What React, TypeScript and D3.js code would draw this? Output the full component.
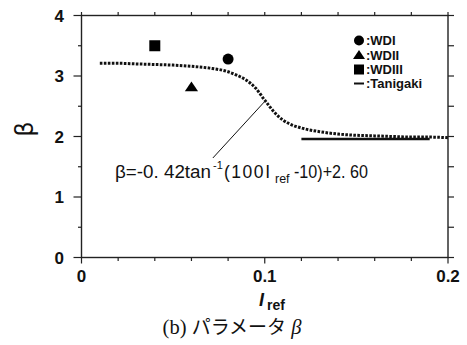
import * as d3 from 'd3';
import React from 'react';

// fitted curve beta = -0.42 tan^-1(100 Iref - 10) + 2.60
const curveI = [0.01, 0.02, 0.03, 0.04, 0.05, 0.06, 0.07, 0.08, 0.085, 0.09, 0.095, 0.1, 0.105, 0.11, 0.115, 0.12, 0.13, 0.14, 0.15, 0.16, 0.17, 0.18, 0.19, 0.2];
const curveBeta = [3.21, 3.21, 3.2, 3.19, 3.18, 3.16, 3.13, 3.07, 3.01, 2.93, 2.8, 2.6, 2.41, 2.27, 2.19, 2.14, 2.08, 2.04, 2.02, 2.01, 2.0, 1.99, 1.99, 1.98];

// experiments
const wdNames = ['WDI', 'WDII', 'WDIII'];
const wdI = [0.08, 0.06, 0.04];
const wdBeta = [3.28, 2.82, 3.5];

// Tanigaki
const tanigakiI = [0.12, 0.19];
const tanigakiBeta = [1.96, 1.96];

const xTicks = [0, 0.1, 0.2];
const xMinor = [0, 0.02, 0.04, 0.06, 0.08, 0.1, 0.12, 0.14, 0.16, 0.18, 0.2];
const yTicks = [0, 1, 2, 3, 4];
const yMinor = [0, 0.5, 1, 1.5, 2, 2.5, 3, 3.5, 4];

const W = 467;
const H = 345;
const left = 81.5;
const right = 448;
const top = 15.5;
const bottom = 257.5;

const App: React.FC = () => {
    const x = d3.scaleLinear().domain([0, 0.2]).range([left, right]);
    const y = d3.scaleLinear().domain([0, 4]).range([bottom, top]);

    const line = d3.line<number>()
        .x((d, i) => x(curveI[i]))
        .y((d) => y(d))
        .curve(d3.curveMonotoneX);

    const sans = 'Liberation Sans, Arial, sans-serif';
    const narrow = 'Liberation Sans Narrow, Arial Narrow, sans-serif';
    const stroke = '#222';

    const marker = (i: number, cx: number, cy: number, s: number) => {
        if (i === 0) return <circle cx={cx} cy={cy} r={s / 2} fill="#000" />;
        if (i === 1) {
            const h = s * 0.9;
            return <path d={`M${cx},${cy - h * 0.55}L${cx + s * 0.6},${cy + h * 0.45}L${cx - s * 0.6},${cy + h * 0.45}Z`} fill="#000" />;
        }
        return <rect x={cx - s / 2} y={cy - s / 2} width={s} height={s} fill="#000" />;
    };

    const legendY = [40.5, 55, 69.5, 83.5];
    const legendX = 359;

    return (
        <svg width={W} height={H} style={{ position: 'absolute', left: 0, top: 0, background: '#fff' }}>
            {/* frame */}
            <rect x={left} y={top} width={right - left} height={bottom - top} fill="none" stroke={stroke} strokeWidth={1.4} />

            {/* ticks */}
            {xMinor.map((t) => (
                <g key={'xt' + t}>
                    <line x1={x(t)} x2={x(t)} y1={bottom} y2={bottom + (xTicks.includes(t) ? 6 : 3.5)} stroke={stroke} strokeWidth={1.2} />
                    <line x1={x(t)} x2={x(t)} y1={top} y2={top - 3.5} stroke={stroke} strokeWidth={1.2} />
                </g>
            ))}
            {yMinor.map((t) => (
                <g key={'yt' + t}>
                    <line x1={left} x2={left - (yTicks.includes(t) ? 8 : 3.5)} y1={y(t)} y2={y(t)} stroke={stroke} strokeWidth={1.2} />
                    <line x1={right} x2={right + 6} y1={y(t)} y2={y(t)} stroke={stroke} strokeWidth={1.2} />
                </g>
            ))}

            {/* tick labels */}
            {xTicks.map((t) => (
                <text key={'xl' + t} x={x(t)} y={282} textAnchor="middle" fontFamily={sans} fontWeight="bold" fontSize={17} fill="#111">
                    {t === 0 ? '0' : t.toFixed(1)}
                </text>
            ))}
            {yTicks.map((t) => (
                <text key={'yl' + t} x={64} y={y(t) + 6} textAnchor="end" fontFamily={sans} fontWeight="bold" fontSize={17} fill="#111">
                    {t}
                </text>
            ))}

            {/* axis titles */}
            <text transform="translate(33,129) rotate(-90)" textAnchor="middle" fontFamily="DejaVu Sans, sans-serif" fontSize={24} fill="#111">β</text>
            <text x={259} y={306} fontFamily={sans} fontSize={18} fontWeight="bold" fontStyle="italic" fill="#111">I</text>
            <text x={267} y={310} fontFamily={sans} fontSize={14} fontWeight="bold" fill="#111">ref</text>
            <text x={232} y={334} textAnchor="middle" fontFamily="Liberation Serif, serif" fontSize={20.5} fill="#111">
                (b) <tspan fontFamily="Noto Sans CJK JP" fontSize={19}>パラメータ</tspan> <tspan fontStyle="italic">β</tspan>
            </text>

            {/* fitted curve */}
            <path d={line(curveBeta) || ''} fill="none" stroke="#111" strokeWidth={3} strokeDasharray="2.6 1.4" />

            {/* Tanigaki */}
            <line x1={x(tanigakiI[0])} x2={x(tanigakiI[1])} y1={y(tanigakiBeta[0])} y2={y(tanigakiBeta[1])} stroke="#111" strokeWidth={2.5} />

            {/* experiments */}
            {wdNames.map((n, i) => (
                <g key={n}>{marker(i, x(wdI[i]), y(wdBeta[i]), 11)}</g>
            ))}

            {/* annotation */}
            <line x1={x(0.1)} y1={y(2.58)} x2={x(0.0717)} y2={y(1.645)} stroke="#111" strokeWidth={1} />
            <g fontFamily={narrow} fill="#111" fontSize={17.5}>
                <text x={115} y={178} textLength={96} lengthAdjust="spacingAndGlyphs">β=-0. 42tan</text>
                <text x={213} y={169} fontSize={11}>-1</text>
                <text x={224} y={178} textLength={46} lengthAdjust="spacing">(100I</text>
                <text x={275} y={183} fontSize={12.5}>ref</text>
                <text x={294} y={178} textLength={74} lengthAdjust="spacingAndGlyphs">-10)+2. 60</text>
            </g>

            {/* legend */}
            {wdNames.map((n, i) => (
                <g key={'lg' + n}>
                    {marker(i, legendX, legendY[i], 10)}
                    <text x={legendX + 7} y={legendY[i] + 4.5} fontFamily={narrow} fontWeight="bold" fontSize={13} fill="#111">:{n}</text>
                </g>
            ))}
            <line x1={legendX - 5} x2={legendX + 5} y1={legendY[3]} y2={legendY[3]} stroke="#111" strokeWidth={2} />
            <text x={legendX + 7} y={legendY[3] + 4.5} fontFamily={narrow} fontWeight="bold" fontSize={13} fill="#111">:Tanigaki</text>
        </svg>
    );
};

export default App;
